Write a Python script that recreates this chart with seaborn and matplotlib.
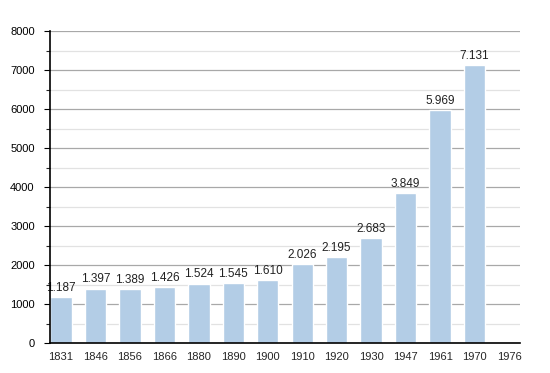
import matplotlib
matplotlib.use("Agg")
import matplotlib.pyplot as plt
from matplotlib.ticker import MultipleLocator
import seaborn as sns

years = ["1831", "1846", "1856", "1866", "1880", "1890", "1900", "1910",
         "1920", "1930", "1947", "1961", "1970", "1976"]
population = [1187, 1397, 1389, 1426, 1524, 1545, 1610, 2026,
              2195, 2683, 3849, 5969, 7131]


def main():
    sns.set_style("white")
    plt.rcParams["font.family"] = ["Liberation Sans", "DejaVu Sans"]

    fig = plt.figure(figsize=(5.5, 3.73), dpi=100)
    ax = fig.add_axes([50 / 550, 30 / 373, 470 / 550, 312 / 373])

    sns.barplot(x=years[:len(population)], y=population, order=years,
                color="#b3cde6", saturation=1, width=0.62,
                edgecolor="white", linewidth=1.0, ax=ax, zorder=3)

    for i, v in enumerate(population):
        ax.text(i, v + 80, f"{v:,}".replace(",", "."), ha="center", va="bottom",
                fontsize=8.5, color="#222222", zorder=4)

    ax.set_ylim(0, 8000)
    ax.set_xlim(-0.32, 13.32)
    ax.yaxis.set_major_locator(MultipleLocator(1000))
    ax.yaxis.set_minor_locator(MultipleLocator(500))
    ax.grid(True, axis="y", which="major", color="#a8a8a8", linewidth=0.9, zorder=1)
    ax.grid(True, axis="y", which="minor", color="#e2e2e2", linewidth=0.9, zorder=1)
    ax.grid(False, axis="x")

    for side in ["top", "right"]:
        ax.spines[side].set_visible(False)
    for side in ["left", "bottom"]:
        ax.spines[side].set_color("black")
        ax.spines[side].set_linewidth(1.2)
        ax.spines[side].set_zorder(6)

    ax.tick_params(axis="y", which="major", left=True, length=4, width=0.8,
                   labelsize=8, colors="black", pad=7)
    ax.tick_params(axis="y", which="minor", left=True, length=3, width=0.8)
    ax.tick_params(axis="x", bottom=False, labelsize=8, pad=3)
    ax.set_xlabel("")
    ax.set_ylabel("")

    fig.savefig("out.png", dpi=100, facecolor="white")


if __name__ == "__main__":
    main()
